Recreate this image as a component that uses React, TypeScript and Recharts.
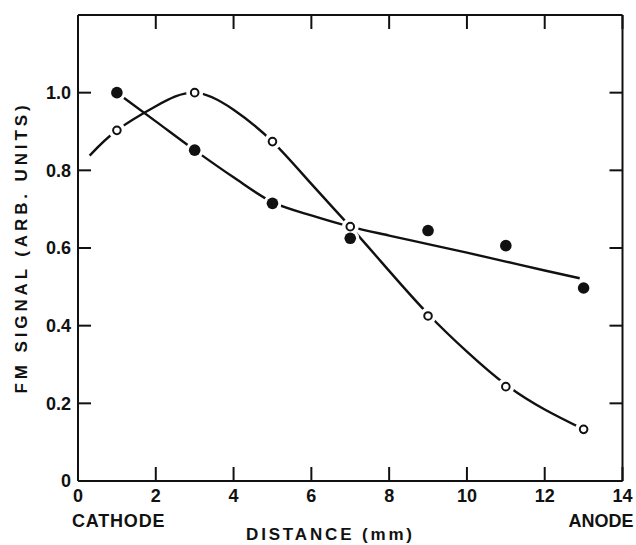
import React from 'react';
import { ComposedChart, Line, Scatter, XAxis, YAxis } from 'recharts';

// Axis ticks
const xTicks = [0, 2, 4, 6, 8, 10, 12, 14];
const yTicks = [0, 0.2, 0.4, 0.6, 0.8, 1.0];
const yTickLabels = ['0', '0.2', '0.4', '0.6', '0.8', '1.0'];

// Measured points (filled = solid dots, open = hollow dots)
const distances = [1, 3, 5, 7, 9, 11, 13];
const solidSignal = [1.0, 0.852, 0.715, 0.625, 0.645, 0.606, 0.497];
const openSignal = [0.903, 1.0, 0.874, 0.655, 0.425, 0.243, 0.133];

// Hand-drawn curves
const openCurveX = [0.3, 1, 2, 3, 4, 5, 6, 7, 8, 9, 10, 11, 12, 13];
const openCurveY = [0.838, 0.903, 0.965, 1.0, 0.956, 0.874, 0.765, 0.655, 0.541, 0.43, 0.333, 0.248, 0.184, 0.133];
const solidCurveX = [1, 2, 3, 4, 5, 6, 7, 8, 9, 10, 11, 12, 12.9];
const solidCurveY = [1.0, 0.926, 0.852, 0.782, 0.718, 0.684, 0.655, 0.632, 0.61, 0.588, 0.565, 0.542, 0.522];

const solidPoints = distances.map((x, i) => ({ x, y: solidSignal[i] }));
const openPoints = distances.map((x, i) => ({ x, y: openSignal[i] }));
const openCurve = openCurveX.map((x, i) => ({ x, y: openCurveY[i] }));
const solidCurve = solidCurveX.map((x, i) => ({ x, y: solidCurveY[i] }));

const FONT = '"Liberation Sans", Arial, sans-serif';
const INK = '#111';
const textStyle = { fontFamily: FONT, fontWeight: 700, fill: INK } as const;

const BottomTick = (props: any) => {
  const { x, y, payload } = props;
  const v = payload.value;
  return (
    <g>
      <line x1={x} x2={x} y1={y} y2={y - 14} stroke={INK} strokeWidth={2} />
      <text x={x} y={y + 21} textAnchor="middle" fontSize={18} style={textStyle}>
        {String(v)}
      </text>
      {v === 0 && (
        <text x={x - 6} y={y + 45.5} textAnchor="start" fontSize={18} letterSpacing={0.8} style={textStyle}>
          CATHODE
        </text>
      )}
      {v === 14 && (
        <text x={x + 11} y={y + 45.5} textAnchor="end" fontSize={18} style={textStyle}>
          ANODE
        </text>
      )}
    </g>
  );
};

const TopTick = (props: any) => {
  const { x, y } = props;
  return <line x1={x} x2={x} y1={y} y2={y + 14} stroke={INK} strokeWidth={2} />;
};

const LeftTick = (props: any) => {
  const { x, y, payload } = props;
  const idx = yTicks.indexOf(payload.value);
  return (
    <g>
      <line x1={x} x2={x + 13} y1={y} y2={y} stroke={INK} strokeWidth={2} />
      <text x={x - 7} y={y} dy="0.36em" textAnchor="end" fontSize={18} style={textStyle}>
        {idx >= 0 ? yTickLabels[idx] : ''}
      </text>
    </g>
  );
};

const RightTick = (props: any) => {
  const { x, y } = props;
  return <line x1={x} x2={x - 13} y1={y} y2={y} stroke={INK} strokeWidth={2} />;
};

const Halo = (r: number) => (props: any) => <circle cx={props.cx} cy={props.cy} r={r} fill="#fff" />;
const SolidDot = (props: any) => <circle cx={props.cx} cy={props.cy} r={5.8} fill={INK} />;
const OpenDot = (props: any) => (
  <circle cx={props.cx} cy={props.cy} r={3.8} fill="#fff" stroke={INK} strokeWidth={2} />
);

const XLabel = (props: any) => {
  const vb = props.viewBox;
  return (
    <text
      x={vb.x + vb.width * 0.461}
      y={vb.y + 59}
      textAnchor="middle"
      fontSize={17}
      textLength={166}
      lengthAdjust="spacing"
      style={textStyle}
    >
      DISTANCE (mm)
    </text>
  );
};

const YLabel = (props: any) => {
  const vb = props.viewBox;
  const cx = 21;
  const cy = vb.y + vb.height * 0.503;
  return (
    <text
      x={cx}
      y={cy}
      dy="0.36em"
      transform={`rotate(-90 ${cx} ${cy})`}
      textAnchor="middle"
      fontSize={17}
      textLength={288}
      lengthAdjust="spacing"
      style={textStyle}
    >
      FM SIGNAL (ARB. UNITS)
    </text>
  );
};

export default function App() {
  return (
    <div style={{ position: 'absolute', left: 0, top: 0, width: 636, height: 545, background: '#fff' }}>
      <ComposedChart
        width={636}
        height={545}
        margin={{ top: 14, right: 12.5, bottom: 63, left: 77 }}
      >
        <XAxis
          xAxisId="b"
          dataKey="x"
          type="number"
          domain={[0, 14]}
          ticks={xTicks}
          interval={0}
          height={1}
          tickSize={0}
          tickMargin={0}
          tickLine={false}
          tick={<BottomTick />}
          axisLine={{ stroke: INK, strokeWidth: 2 }}
          allowDataOverflow
          label={<XLabel />}
        />
        <XAxis
          xAxisId="t"
          orientation="top"
          dataKey="x"
          type="number"
          domain={[0, 14]}
          ticks={xTicks}
          interval={0}
          height={1}
          tickSize={0}
          tickMargin={0}
          tickLine={false}
          tick={<TopTick />}
          axisLine={{ stroke: INK, strokeWidth: 2 }}
          allowDataOverflow
        />
        <YAxis
          yAxisId="l"
          dataKey="y"
          type="number"
          domain={[0, 1.2]}
          ticks={yTicks}
          interval={0}
          width={1}
          tickSize={0}
          tickMargin={0}
          tickLine={false}
          tick={<LeftTick />}
          axisLine={{ stroke: INK, strokeWidth: 2 }}
          allowDataOverflow
          label={<YLabel />}
        />
        <YAxis
          yAxisId="r"
          orientation="right"
          dataKey="y"
          type="number"
          domain={[0, 1.2]}
          ticks={yTicks}
          interval={0}
          width={1}
          tickSize={0}
          tickMargin={0}
          tickLine={false}
          tick={<RightTick />}
          axisLine={{ stroke: INK, strokeWidth: 2 }}
          allowDataOverflow
        />
        <Line
          xAxisId="b"
          yAxisId="l"
          data={openCurve}
          dataKey="y"
          type="natural"
          stroke={INK}
          strokeWidth={2.4}
          dot={false}
          activeDot={false}
          isAnimationActive={false}
        />
        <Line
          xAxisId="b"
          yAxisId="l"
          data={solidCurve}
          dataKey="y"
          type="monotone"
          stroke={INK}
          strokeWidth={2.4}
          dot={false}
          activeDot={false}
          isAnimationActive={false}
        />
        <Scatter xAxisId="b" yAxisId="l" data={solidPoints} dataKey="y" shape={Halo(9)} isAnimationActive={false} />
        <Scatter xAxisId="b" yAxisId="l" data={openPoints} dataKey="y" shape={Halo(8.5)} isAnimationActive={false} />
        <Scatter xAxisId="b" yAxisId="l" data={solidPoints} dataKey="y" shape={SolidDot} isAnimationActive={false} />
        <Scatter xAxisId="b" yAxisId="l" data={openPoints} dataKey="y" shape={OpenDot} isAnimationActive={false} />
      </ComposedChart>
    </div>
  );
}
